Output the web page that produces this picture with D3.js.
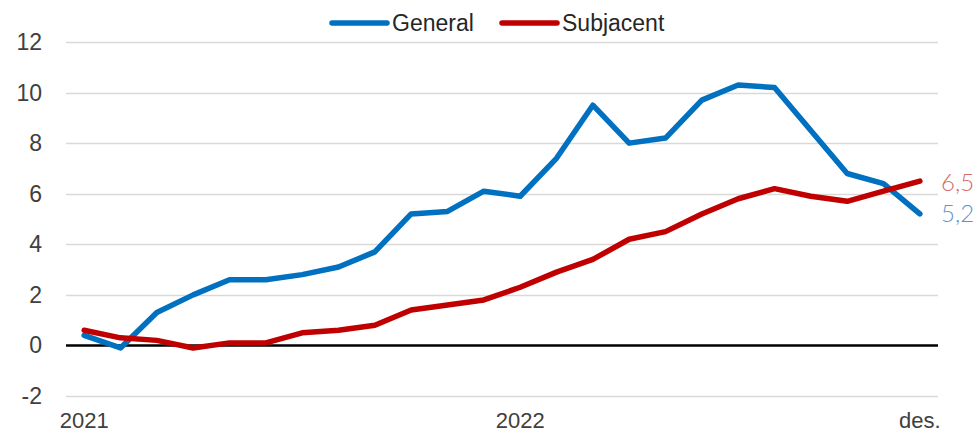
<!DOCTYPE html>
<html>
<head>
<meta charset="utf-8">
<script src="https://cdn.jsdelivr.net/npm/d3@7"></script>
<style>
  html, body { margin: 0; padding: 0; background: #fff; overflow: hidden; }
  svg { display: block; }
</style>
</head>
<body>
<svg id="chart" width="976" height="434"></svg>
<script>
const months = ["gen21","feb21","mar21","abr21","mai21","jun21","jul21","ago21","set21","oct21","nov21","des21",
                "gen22","feb22","mar22","abr22","mai22","jun22","jul22","ago22","set22","oct22","nov22","des22"];
const general   = [0.4,-0.1,1.3,2.0,2.6,2.6,2.8,3.1,3.7,5.2,5.3,6.1,5.9,7.4,9.5,8.0,8.2,9.7,10.3,10.2,8.5,6.8,6.4,5.2];
const subjacent = [0.6,0.3,0.2,-0.1,0.1,0.1,0.5,0.6,0.8,1.4,1.6,1.8,2.3,2.9,3.4,4.2,4.5,5.2,5.8,6.2,5.9,5.7,6.1,6.5];
const yTicks = [-2,0,2,4,6,8,10,12];
const xLabels = [{i:0, text:"2021"}, {i:12, text:"2022"}, {i:23, text:"des."}];
const seriesNames = ["General","Subjacent"];
const endLabels = ["5,2","6,5"];

const svg = d3.select("#chart");
const font = "'Liberation Sans', Arial, sans-serif";

const x = d3.scaleBand().domain(months).range([66, 938]).paddingInner(0).paddingOuter(0);
const y = d3.scaleLinear().domain([-2, 12]).range([396, 42]);
const cx = m => x(m) + x.bandwidth() / 2;

// gridlines
svg.append("g").selectAll("line").data(yTicks.filter(d => d !== 0)).join("line")
  .attr("x1", 66).attr("x2", 938)
  .attr("y1", d => Math.round(y(d)) + 0.5).attr("y2", d => Math.round(y(d)) + 0.5)
  .attr("stroke", "#d9d9d9").attr("stroke-width", 1.3);

// y-axis labels
svg.append("g").selectAll("text").data(yTicks).join("text")
  .attr("x", 42).attr("y", d => y(d) + 8)
  .attr("text-anchor", "end")
  .attr("font-family", font).attr("font-size", 23).attr("fill", "#404040")
  .text(d => d);

// zero line
svg.append("line")
  .attr("x1", 66).attr("x2", 938).attr("y1", y(0)).attr("y2", y(0))
  .attr("stroke", "#000").attr("stroke-width", 2.5);

// x labels
svg.append("g").selectAll("text").data(xLabels).join("text")
  .attr("x", d => cx(months[d.i])).attr("y", 428)
  .attr("text-anchor", "middle")
  .attr("font-family", font).attr("font-size", 22).attr("fill", "#404040")
  .text(d => d.text);

const colors = ["#0070C0", "#C00000"];
const labelColors = ["#5B96D2", "#D66A6A"];
const data = [general, subjacent];

const line = d3.line().x((d, i) => cx(months[i])).y(d => y(d));

data.forEach((s, k) => {
  svg.append("path").datum(s)
    .attr("d", line)
    .attr("fill", "none")
    .attr("stroke", colors[k])
    .attr("stroke-width", 5.5)
    .attr("stroke-linejoin", "round")
    .attr("stroke-linecap", "round");
});

// end labels
svg.append("text").attr("x", 941).attr("y", 191)
  .attr("font-family", "Lato, 'Open Sans', sans-serif").attr("font-weight", 300)
  .attr("font-size", 24).attr("fill", labelColors[1]).text(endLabels[1]);
svg.append("text").attr("x", 941).attr("y", 222)
  .attr("font-family", "Lato, 'Open Sans', sans-serif").attr("font-weight", 300)
  .attr("font-size", 24).attr("fill", labelColors[0]).text(endLabels[0]);

// legend
const legendX = [332, 502];
seriesNames.forEach((name, k) => {
  svg.append("line")
    .attr("x1", legendX[k]).attr("x2", legendX[k] + 55)
    .attr("y1", 23).attr("y2", 23)
    .attr("stroke", colors[k]).attr("stroke-width", 5.5).attr("stroke-linecap", "round");
  svg.append("text")
    .attr("x", legendX[k] + 60).attr("y", 31)
    .attr("font-family", font).attr("font-size", 23).attr("fill", "#262626")
    .text(name);
});
</script>
</body>
</html>
